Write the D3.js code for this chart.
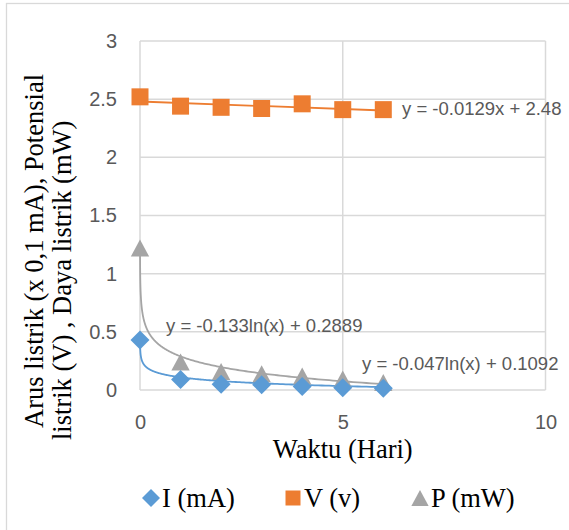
<!DOCTYPE html>
<html><head><meta charset="utf-8">
<script src="https://cdn.jsdelivr.net/npm/d3@7"></script>
<style>body{margin:0;background:#fff}svg{display:block}</style>
</head><body><div id="c"></div>
<script>
// ---- data ----
const days = [0, 1, 2, 3, 4, 5, 6];
const currentI = [0.43, 0.09, 0.05, 0.045, 0.03, 0.02, 0.015];
const voltageV = [2.52, 2.44, 2.43, 2.42, 2.46, 2.41, 2.41];
const powerP = [1.22, 0.24, 0.16, 0.14, 0.12, 0.095, 0.065];
const seriesNames = ["I (mA)", "V (v)", "P (mW)"];
const seriesColors = ["#5B9BD5", "#ED7D31", "#A5A5A5"];
// trendline coefficients (as printed on the chart)
const trendV = {a: -0.0129, b: 2.48, label: "y = -0.0129x + 2.48"};
const trendI = {a: -0.047, b: 0.1092, label: "y = -0.047ln(x) + 0.1092"};
const trendP = {a: -0.133, b: 0.2889, label: "y = -0.133ln(x) + 0.2889"};
const xTicks = [0, 5, 10];
const yTicks = [0, 0.5, 1, 1.5, 2, 2.5, 3];
const xTitle = "Waktu (Hari)";
const yTitleLines = ["Arus listrik (x 0,1 mA), Potensial", "listrik (V) , Daya listrik (mW)"];
const legendX = [151, 293, 420];

// ---- layout ----
const W = 569, H = 530;
const plot = {l: 140, r: 545.5, t: 41, b: 390};
const svg = d3.select("#c").append("svg").attr("width", W).attr("height", H);
const x = d3.scaleLinear().domain([0, 10]).range([plot.l, plot.r]);
const y = d3.scaleLinear().domain([0, 3]).range([plot.b, plot.t]);
const grid = "#d9d9d9", txt = "#595959";

svg.append("rect").attr("x", 6.5).attr("y", 3.5).attr("width", 700).attr("height", 700)
  .attr("fill", "none").attr("stroke", grid).attr("stroke-width", 1.3);

// gridlines
svg.append("g").selectAll("line").data(yTicks).join("line")
  .attr("x1", plot.l).attr("x2", plot.r).attr("y1", d => y(d)).attr("y2", d => y(d))
  .attr("stroke", grid).attr("stroke-width", 1.5);
svg.append("g").selectAll("line").data(xTicks).join("line")
  .attr("y1", plot.t).attr("y2", plot.b).attr("x1", d => x(d)).attr("x2", d => x(d))
  .attr("stroke", grid).attr("stroke-width", 1.5);

// axes labels via d3 axes (no domain/ticks drawn)
const ax = svg.append("g").attr("transform", `translate(0,${plot.b})`)
  .call(d3.axisBottom(x).tickValues(xTicks).tickSize(0).tickPadding(25).tickFormat(d3.format("d")));
const ay = svg.append("g").attr("transform", `translate(${plot.l},0)`)
  .call(d3.axisLeft(y).tickValues(yTicks).tickSize(0).tickPadding(23).tickFormat(d => d));
[ax, ay].forEach(g => {
  g.select(".domain").remove();
  g.selectAll("text").attr("fill", txt).style("font-family", "'Liberation Sans', Arial, sans-serif").style("font-size", "20px");
});

// trendlines
const line = d3.line().x(d => x(d[0])).y(d => y(d[1]));
const logPts = t => {
  const pts = [];
  for (let e = -7.0; e <= Math.log(6) + 1e-9; e += 0.02) {
    const xv = Math.exp(e);
    pts.push([xv, t.a * Math.log(xv) + t.b]);
  }
  pts.push([6, t.a * Math.log(6) + t.b]);
  return pts;
};
svg.append("path").attr("d", line(logPts(trendP))).attr("fill", "none")
  .attr("stroke", seriesColors[2]).attr("stroke-width", 1.8);
svg.append("path").attr("d", line(logPts(trendI))).attr("fill", "none")
  .attr("stroke", seriesColors[0]).attr("stroke-width", 1.8);
svg.append("path").attr("d", line([[0, trendV.b], [6, trendV.a * 6 + trendV.b]])).attr("fill", "none")
  .attr("stroke", seriesColors[1]).attr("stroke-width", 1.8);

// marker shapes
const diamond = (cx, cy, s) => `M${cx},${cy - s}L${cx + s},${cy}L${cx},${cy + s}L${cx - s},${cy}Z`;
const square = (cx, cy, s) => `M${cx - s},${cy - s}H${cx + s}V${cy + s}H${cx - s}Z`;
const triangle = (cx, cy, s) => `M${cx},${cy - s}L${cx + s * 1.08},${cy + s}L${cx - s * 1.08},${cy + s}Z`;

const mk = (vals, fn, size, color) => svg.append("g").selectAll("path").data(days.map((d, i) => [d, vals[i]]))
  .join("path").attr("d", d => fn(x(d[0]), y(d[1]), size)).attr("fill", color);
mk(voltageV, square, 8.5, seriesColors[1]);
mk(powerP, triangle, 8.5, seriesColors[2]);
mk(currentI, diamond, 9.5, seriesColors[0]);

// equations
const eqStyle = s => s.attr("fill", txt).style("font-family", "'Liberation Sans', Arial, sans-serif").style("font-size", "18.5px");
eqStyle(svg.append("text").attr("x", 402).attr("y", 115).text(trendV.label));
eqStyle(svg.append("text").attr("x", 166).attr("y", 332).text(trendP.label));
eqStyle(svg.append("text").attr("x", 362).attr("y", 370).text(trendI.label));

// titles
const serif = s => s.attr("fill", "#000").style("font-family", "'Liberation Serif', 'Times New Roman', serif").style("font-size", "26.5px");
serif(svg.append("text").attr("x", (plot.l + plot.r) / 2).attr("y", 458).attr("text-anchor", "middle").text(xTitle));
serif(svg.append("text").attr("transform", "translate(43,428) rotate(-90)").text(yTitleLines[0]));
serif(svg.append("text").attr("transform", "translate(71,440) rotate(-90)").text(yTitleLines[1]));

// legend
const lg = svg.append("g");
const shapes = [diamond, square, triangle];
const sizes = [9, 7.5, 8];
seriesNames.forEach((n, i) => {
  lg.append("path").attr("d", shapes[i](legendX[i], 498, sizes[i])).attr("fill", seriesColors[i]);
  serif(lg.append("text").attr("x", legendX[i] + 11).attr("y", 507).text(n));
});
</script></body></html>
